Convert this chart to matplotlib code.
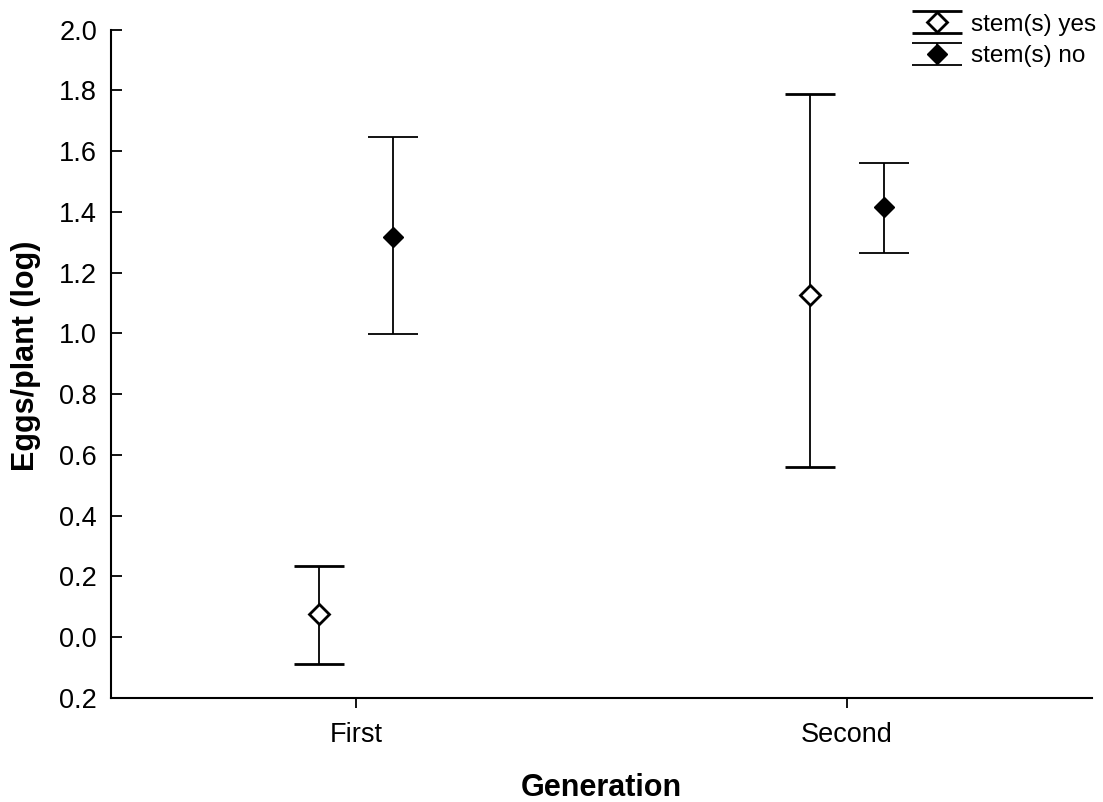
import numpy as np
import matplotlib.pyplot as plt
from matplotlib.ticker import FixedLocator
from matplotlib.legend_handler import HandlerErrorbar
from matplotlib.container import ErrorbarContainer

plt.rcParams['font.family'] = ['Liberation Sans', 'DejaVu Sans']

# data
generations = ['First', 'Second']
yes_mean = [0.075, 1.128]
yes_lo = [0.163, 0.568]
yes_hi = [0.160, 0.660]
no_mean = [1.318, 1.415]
no_lo = [0.320, 0.150]
no_hi = [0.330, 0.147]

yticks = [-0.2, 0.0, 0.2, 0.4, 0.6, 0.8, 1.0, 1.2, 1.4, 1.6, 1.8, 2.0]
ytick_labels = ['0.2', '0.0', '0.2', '0.4', '0.6', '0.8', '1.0', '1.2', '1.4', '1.6', '1.8', '2.0']

offset = 0.075
x = np.arange(len(generations))

fig = plt.figure(figsize=(11.03, 8.02), dpi=100)
ax = fig.add_axes([0.1006, 0.1297, 0.8894, 0.8334])

ax.errorbar(x - offset, yes_mean, yerr=[yes_lo, yes_hi], fmt='D', color='black',
            mfc='white', mec='black', mew=2, ms=10, capsize=18, capthick=1.3,
            elinewidth=1.3, label='stem(s) yes')
ax.errorbar(x + offset, no_mean, yerr=[no_lo, no_hi], fmt='D', color='black',
            mfc='black', mec='black', ms=10, capsize=18, capthick=1.3,
            elinewidth=1.3, label='stem(s) no')

ax.set_xlim(-0.5, 1.5)
ax.set_ylim(-0.2, 2.0)
ax.set_xticks(x)
ax.set_xticklabels(generations)
ax.yaxis.set_major_locator(FixedLocator(yticks))
ax.set_yticklabels(ytick_labels)

for s in ['top', 'right']:
    ax.spines[s].set_visible(False)
for s in ['left', 'bottom']:
    ax.spines[s].set_linewidth(1.5)

ax.tick_params(axis='y', direction='in', length=8, width=1.3, labelsize=19.5, pad=10)
ax.tick_params(axis='x', direction='out', length=7, width=1.3, labelsize=19.5, pad=10)

ax.set_xlabel('Generation', fontsize=22, fontweight='bold', labelpad=18)
ax.set_ylabel('Eggs/plant (log)', fontsize=22, fontweight='bold')
ax.yaxis.set_label_coords(-0.0715, 0.512)

leg = fig.legend(*ax.get_legend_handles_labels(), loc='upper right',
                 bbox_to_anchor=(1.0, 0.992), frameon=False,
                 fontsize=17.5, handlelength=2.0, handletextpad=0.4,
                 labelspacing=0.4, borderaxespad=0.1, borderpad=0.2,
                 handler_map={ErrorbarContainer: HandlerErrorbar(xerr_size=0.5, yerr_size=0.45)})

fig.savefig('out.png', dpi=100)
